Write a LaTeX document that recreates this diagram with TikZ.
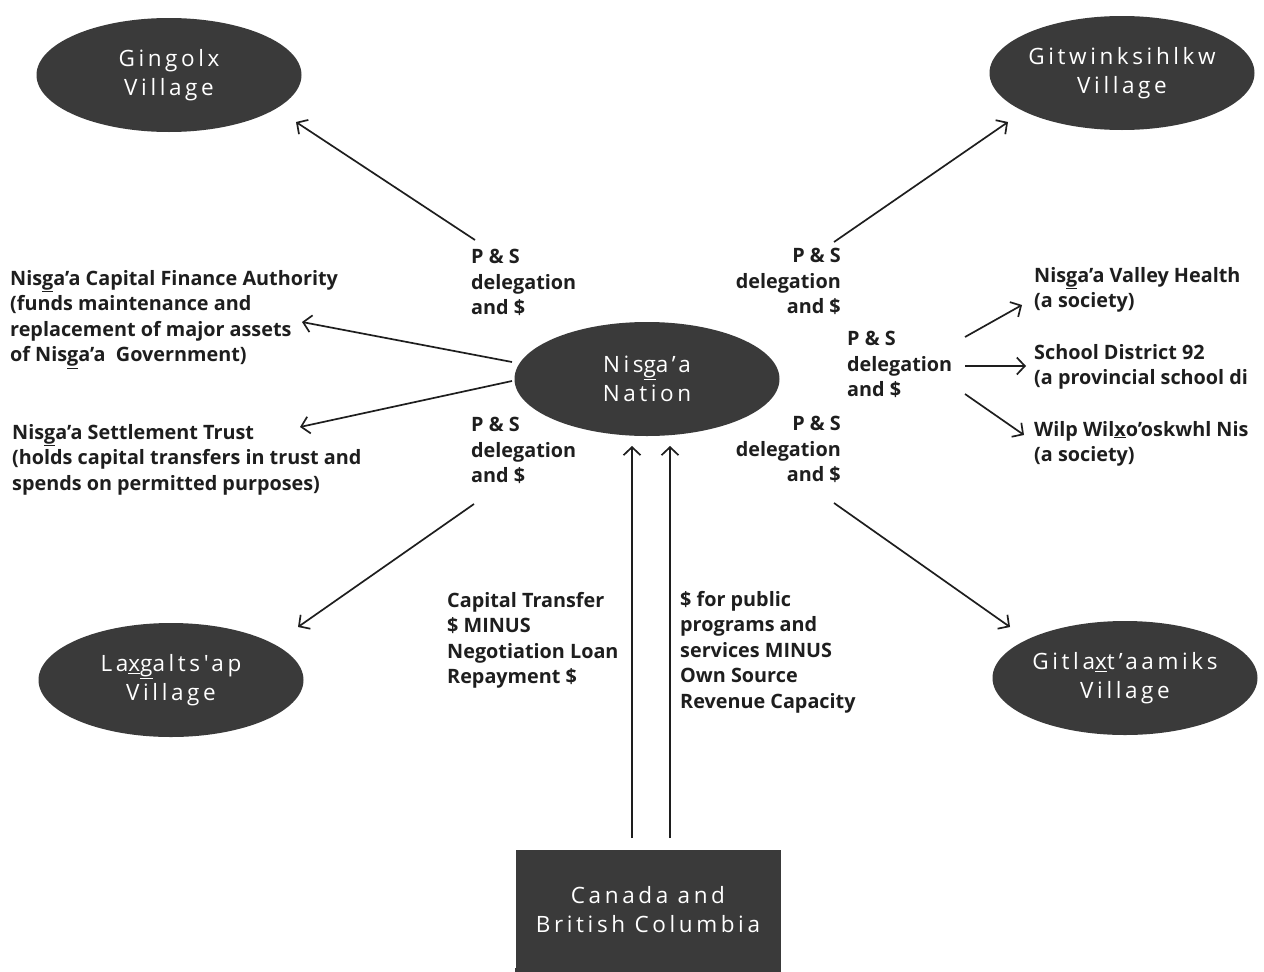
\documentclass[tikz,border=0pt]{standalone}
\usepackage{fontspec}
\setmainfont{Open Sans}
\newfontfamily\ovalfont{Open Sans}[LetterSpace=16]
\usetikzlibrary{arrows.meta,shapes,positioning}
\definecolor{ovalgray}{RGB}{58,58,58}
\definecolor{inkgray}{RGB}{30,30,30}
\newcommand{\ug}{\underline{g}}
\newcommand{\ux}{\underline{x}}

\begin{document}
\begin{tikzpicture}[x=1pt,y=-1pt]
    \tikzset{vertex/.style = {shape=ellipse,fill=ovalgray,text=white,inner sep=0pt,
        minimum width=265pt,minimum height=114pt,align=center,
        font=\ovalfont\fontsize{22.5}{29}\selectfont}}
    \tikzset{label/.style = {inner sep=0pt,text=inkgray,font=\bfseries\fontsize{19.8}{25.5}\selectfont}}
    \tikzset{edge/.style = {-{Straight Barb[length=8pt,width=17pt]},line width=1.7pt,draw=inkgray}}
    \useasboundingbox (0,0) rectangle (1264,972);
    % vertices
    \node[vertex] (1) at (169,75)  {Gingolx\\ Village};
    \node[vertex] (2) at (1122,73) {Gitwinksihlkw\\ Village};
    \node[vertex] (3) at (647,379) {Nis\ug a’a\\ Nation};
    \node[vertex] (4) at (171,680) {La\ux\ug alts'ap\\ Village};
    \node[vertex] (5) at (1125,678) {Gitla\ux t’aamiks\\ Village};
    \node[vertex,shape=rectangle,minimum height=118pt,anchor=north] (6) at (648,850) {Canada and\\ British Columbia};
    \fill[ovalgray] (6.south west) rectangle ([yshift=-6pt]6.south east);
    % texts
    \node[label,anchor=north west,align=left] (7) at (10,270)
        {Nis\ug a’a Capital Finance Authority\\ (funds maintenance and\\ replacement of major assets\\ of Nis\ug a’a\ \ Government)};
    \node[label,anchor=north west,align=left] (8) at (12,424)
        {Nis\ug a’a Settlement Trust\\ (holds capital transfers in trust and\\ spends on permitted purposes)};
    \node[label,anchor=north west,align=left] (9) at (1034,267)
        {Nis\ug a’a Valley Health\\ (a society)};
    \node[label,anchor=north west,align=left] (10) at (1034,344)
        {School District 92\\ (a provincial school di};
    \node[label,anchor=north west,align=left] (11) at (1034,421)
        {Wilp Wil\ux o’oskwhl Nis\\ (a society)};
    \node[label,anchor=north west,align=left] (12) at (471,249) {P \& S\\ delegation\\ and \$};
    \node[label,anchor=north east,align=right] (13) at (841,248) {P \& S\\ delegation\\ and \$};
    \node[label,anchor=north west,align=left] (14) at (847,331) {P \& S\\ delegation\\ and \$};
    \node[label,anchor=north west,align=left] (15) at (471,417) {P \& S\\ delegation\\ and \$};
    \node[label,anchor=north east,align=right] (16) at (841,416) {P \& S\\ delegation\\ and \$};
    \node[label,anchor=north west,align=left] (17) at (447,592)
        {Capital Transfer\\ \$ MINUS\\ Negotiation Loan\\ Repayment \$};
    \node[label,anchor=north west,align=left] (18) at (680,591)
        {\$ for public\\ programs and\\ services MINUS\\ Own Source\\ Revenue Capacity};
    % arrow ends
    \coordinate (a1) at (475,240);  \coordinate (b1) at (296,122);
    \coordinate (a2) at (834,242);  \coordinate (b2) at (1008,122);
    \coordinate (a3) at (512,362);  \coordinate (b3) at (302,322);
    \coordinate (a4) at (512,381);  \coordinate (b4) at (300,427);
    \coordinate (a5) at (474,504);  \coordinate (b5) at (298,627);
    \coordinate (a6) at (834,503);  \coordinate (b6) at (1010,627);
    \coordinate (a7) at (965,337);  \coordinate (b7) at (1022,305);
    \coordinate (a8) at (965,366);  \coordinate (b8) at (1026,366);
    \coordinate (a9) at (965,394);  \coordinate (b9) at (1024,435);
    \coordinate (a10) at (632,838); \coordinate (b10) at (632,446);
    \coordinate (a11) at (670,838); \coordinate (b11) at (670,446);
    \foreach \i in {1,...,11}
        \draw[edge] (a\i) -- (b\i);
\end{tikzpicture}
\end{document}
